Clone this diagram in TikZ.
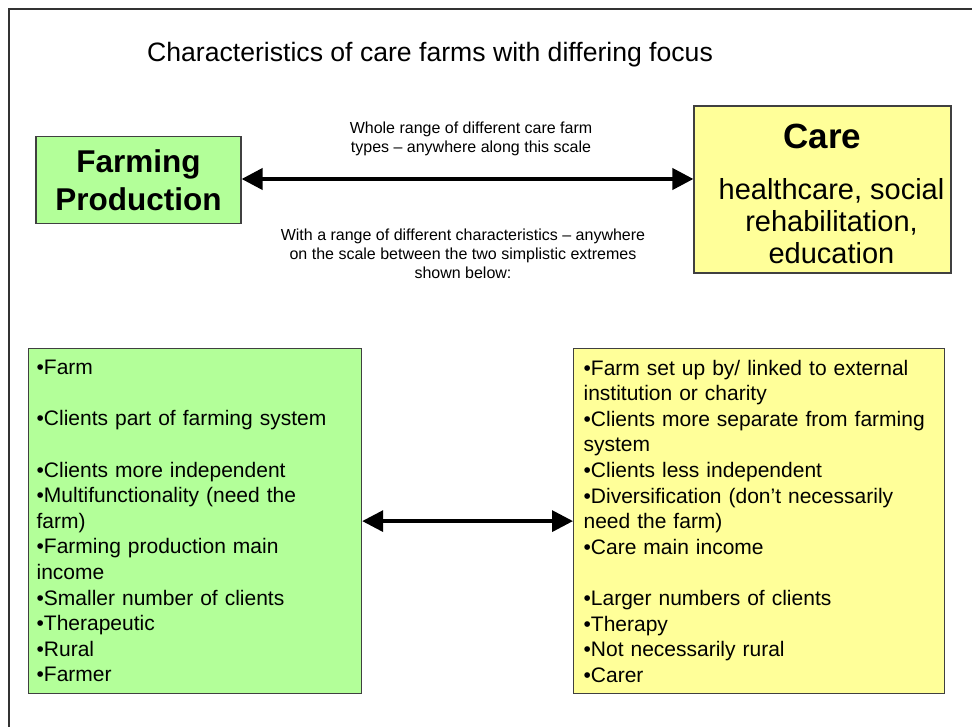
\documentclass[tikz,border=0pt]{standalone}
\usepackage{fontspec}
\setmainfont{Liberation Sans}
\usetikzlibrary{arrows.meta}
\definecolor{farmgreen}{RGB}{179,255,153}
\definecolor{careyellow}{RGB}{255,255,153}

\tikzset{
  box/.style={draw=black!75, line width=1.2pt, rectangle},
  listbox/.style={box, inner xsep=8pt, align=left, anchor=north west,
    font=\fontsize{21}{25.6}\selectfont},
  scalearrow/.style={{Triangle[length=21pt,width=21pt]}-{Triangle[length=21pt,width=21pt]}, line width=4pt},
  note/.style={align=center, inner sep=0pt, anchor=north, font=\fontsize{16}{19}\selectfont}
}

\begin{document}
\begin{tikzpicture}[x=1pt, y=-1pt]
    \useasboundingbox (0,0) rectangle (972,727);
    % slide frame
    \draw[black!80, line width=1.5pt] (9,727) -- (9,9) -- (972,9);

    % Title
    \node[anchor=base west, inner sep=0pt, font=\fontsize{26.6}{30}\selectfont] (title) at (147,62) {Characteristics of care farms with differing focus};

    % The two extremes
    \node[box, fill=farmgreen, minimum width=205, minimum height=87, align=center, font=\fontsize{31.5}{38}\selectfont\bfseries] (farming) at (138.5,180) {Farming\\Production};
    \node[box, fill=careyellow, minimum width=257, minimum height=167, align=center, font=\fontsize{29}{32}\selectfont] (care) at (822.5,189.5) {{\fontsize{35}{40}\selectfont\bfseries\rule{0pt}{34pt}Care}\\[19pt]\hspace*{18pt}healthcare, social\\\hspace*{18pt}rehabilitation,\\\hspace*{18pt}education};

    % Labels round the scale
    \node[note] (scalelabel) at (471,121.3) {Whole range of different care farm\\types -- anywhere along this scale};
    \node[note] (rangelabel) at (463,228.3) {With a range of different characteristics -- anywhere\\on the scale between the two simplistic extremes\\shown below:};

    % Characteristics
    \node[listbox, fill=farmgreen, text width=317, minimum height=345] (farmlist) at (28,348) {%
      •Farm\\[25.6pt]
      •Clients part of farming system\\[25.6pt]
      •Clients more independent\\
      •Multifunctionality (need the\\
      farm)\\
      •Farming production main\\
      income\\
      •Smaller number of clients\\
      •Therapeutic\\
      •Rural\\
      •Farmer};
    \node[listbox, fill=careyellow, inner xsep=10pt, text width=351, minimum height=345] (carelist) at (573,348) {%
      •Farm set up by/ linked to external\\
      institution or charity\\
      •Clients more separate from farming\\
      system\\
      •Clients less independent\\
      •Diversification (don’t necessarily\\
      need the farm)\\
      •Care main income\\[25.6pt]
      •Larger numbers of clients\\
      •Therapy\\
      •Not necessarily rural\\
      •Carer};

    % Connections
    \draw[scalearrow] ([yshift=1pt]farming.east) -- ([yshift=1pt]farming.east -| care.west);
    \draw[scalearrow, line width=3.5pt] (farmlist.east) -- (carelist.west);
\end{tikzpicture}
\end{document}
